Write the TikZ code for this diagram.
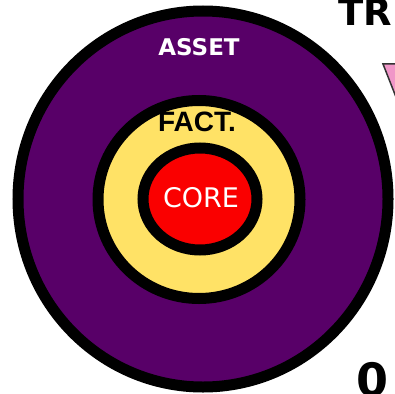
\documentclass[tikz,border=0pt]{standalone}
\usepackage{fontspec}
\setmainfont{DejaVu Sans}
\newfontfamily\factfont{Liberation Sans}

\definecolor{assetpurple}{RGB}{88,0,104}
\definecolor{factyellow}{RGB}{255,226,102}
\definecolor{corered}{RGB}{250,0,0}
\definecolor{arrowpink}{RGB}{240,150,200}

\begin{document}
\begin{tikzpicture}[
  x=1pt, y=-1pt,
  ring/.style={draw=black, line width=11pt},
  ringtext/.style={inner sep=0pt, font=\fontsize{27}{27}\selectfont},
  bigtext/.style={inner sep=0pt, anchor=base west, font=\bfseries\fontsize{37}{37}\selectfont}
]
\useasboundingbox (0,0) rectangle (395,393);
\clip (0,0) rectangle (395,393);
\fill[white] (0,0) rectangle (395,393);

% the three rings
\draw[ring, fill=assetpurple] (203,199) ellipse [x radius=185, y radius=188];
\draw[ring, fill=factyellow] (199,199.5) ellipse [x radius=101, y radius=99];
\draw[ring, fill=corered] (200,199) ellipse [x radius=57, y radius=51];

\node[ringtext, text=white, font=\bfseries\fontsize{23}{23}\selectfont] (asset) at (199,47.5) {ASSET};
\node[ringtext, font=\factfont\bfseries\fontsize{28}{28}\selectfont] (fact) at (197,122) {FACT.};
\node[ringtext, text=white] (core) at (201,197.5) {CORE};

% pieces cut off at the edge
\node[bigtext] (title) at (338,26) {TR};
\node[bigtext, font=\bfseries\fontsize{46}{46}\selectfont] (zero) at (356,396) {0};
\draw[line width=1.5pt, draw=black!80, fill=arrowpink] (383,64) -- (430,64) -- (405,120) -- cycle;
\end{tikzpicture}
\end{document}
